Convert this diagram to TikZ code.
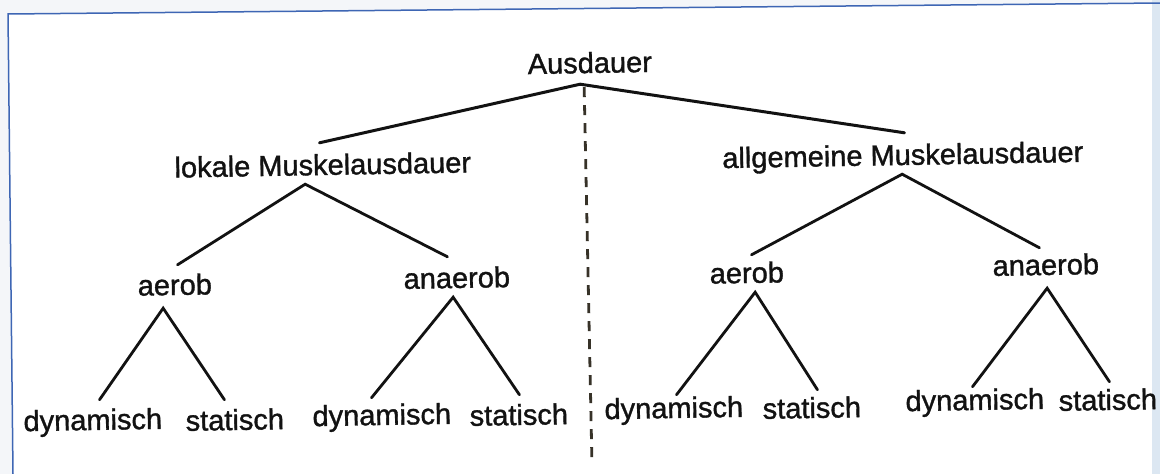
\documentclass[tikz,border=0pt]{standalone}
\usepackage{fontspec}
\setmainfont{Liberation Sans}
\newfontfamily\lblfont{Liberation Sans}[BoldFont=Liberation Sans, BoldFeatures={FakeBold=1.2}]
\definecolor{dividerink}{RGB}{55,50,40}
\definecolor{framblue}{RGB}{62,102,180}
\definecolor{edgeblue}{RGB}{220,231,242}
\definecolor{outerpaper}{RGB}{244,246,249}
\definecolor{ink}{RGB}{18,18,18}
\begin{document}
\begin{tikzpicture}[x=1pt,y=-1pt,
  lbl/.style={anchor=base, inner xsep=0pt, inner ysep=9pt, text height=21pt, text depth=0pt,
              rotate=1, text=ink, font=\lblfont\bfseries\fontsize{29}{34}\selectfont},
  branch/.style={line width=2.8pt, line cap=round, draw=ink},
  divider/.style={line width=2.8pt, draw=dividerink, dash pattern=on 10pt off 8pt},
  frameline/.style={line width=1.5pt, draw=framblue}]
% paper
\useasboundingbox (0,0) rectangle (1160,474);
\fill[outerpaper] (0,0) rectangle (1160,474);
\fill[white] (8,14) -- (1160,3) -- (1152,3) -- (1152,474) -- (13,474) -- cycle;
\fill[edgeblue] (1152,0) rectangle (1160,474);
% frame
\coordinate (fr-tl) at (8,14);
\coordinate (fr-tr) at (1160,3);
\coordinate (fr-bl) at (13,474);
\draw[frameline] (fr-bl) -- (fr-tl) -- (fr-tr);

% labels
\node[lbl] (aus)  at (590,73)  {Ausdauer};
\node[lbl] (lok)  at (323,175) {lokale Muskelausdauer};
\node[lbl] (allg) at (903,165) {allgemeine Muskelausdauer};
\node[lbl] (aeL)  at (175,295) {aerob};
\node[lbl] (anL)  at (457,288) {anaerob};
\node[lbl] (aeR)  at (747,283) {aerob};
\node[lbl] (anR)  at (1046,275) {anaerob};
\node[lbl] (d1) at (93,430)  {dynamisch};
\node[lbl] (s1) at (235,430) {statisch};
\node[lbl] (d2) at (382,425) {dynamisch};
\node[lbl] (s2) at (519,425) {statisch};
\node[lbl] (d3) at (674,418) {dynamisch};
\node[lbl] (s3) at (812,418) {statisch};
\node[lbl] (d4) at (975,410) {dynamisch};
\node[lbl] (s4) at (1108,410) {statisch};

% tree branches
\draw[branch, line width=3pt] ([xshift=-3pt,yshift=2pt]lok.north) -- ([xshift=-10pt,yshift=-2pt]aus.south)
      -- ([xshift=2pt,yshift=2pt]allg.north);
\draw[branch] ([xshift=3pt]aeL.north) -- ([xshift=-18pt]lok.south) -- ([xshift=-9pt,yshift=1pt]anL.north);
\draw[branch] ([xshift=5pt,yshift=-2pt]aeR.north) -- ([xshift=-1pt]allg.south) -- ([xshift=-6pt,yshift=-3pt]anR.north);
\draw[branch] ([xshift=7pt]d1.north) -- ([xshift=-12pt,yshift=-4pt]aeL.south) -- ([xshift=-10pt]s1.north);
\draw[branch] ([xshift=-10pt,yshift=-3pt]d2.north) -- ([xshift=-4pt]anL.south) -- ([xshift=1pt]s2.north);
\draw[branch] ([xshift=3pt,yshift=-7pt]d3.north) -- ([xshift=8pt]aeR.south) -- ([xshift=6pt,yshift=-2pt]s3.north);
\draw[branch] ([xshift=-2pt,yshift=-7pt]d4.north) -- ([xshift=1pt,yshift=-4pt]anR.south) -- ([xshift=2pt,yshift=-2pt]s4.north);

% dashed divider between the two halves
\coordinate (div-end) at (592,465);
\draw[divider] ([xshift=-6pt,yshift=-5pt]aus.south) -- (div-end);
\end{tikzpicture}
\end{document}
